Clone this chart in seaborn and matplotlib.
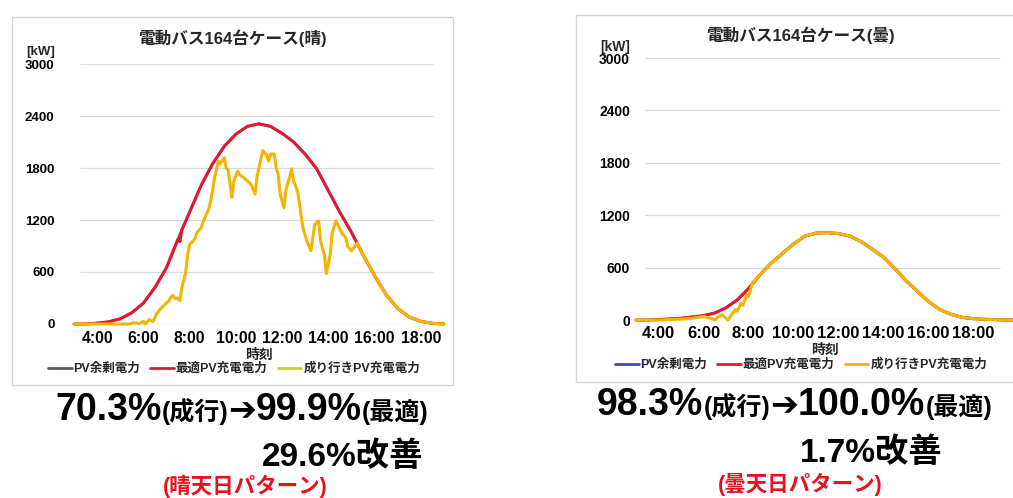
import matplotlib
matplotlib.use("Agg")
import matplotlib.pyplot as plt
import seaborn as sns
from matplotlib.lines import Line2D
from matplotlib.patches import Rectangle
from matplotlib.offsetbox import TextArea, HPacker, AnchoredOffsetbox

sns.set_style("white")
plt.rcParams["font.family"] = ["Liberation Sans", "Noto Sans CJK JP"]

W, H = 1013, 498

# ---------------- 晴天日 (sunny day) ----------------
sunny_time = ["03:00", "03:30", "04:00", "04:30", "05:00", "05:30", "06:00", "06:30",
              "07:00", "07:30", "07:35", "07:40", "08:00", "08:30", "09:00", "09:30",
              "10:00", "10:30", "11:00", "11:30", "12:00", "12:30", "13:00", "13:30",
              "14:00", "14:30", "15:00", "15:30", "16:00", "16:30", "17:00", "17:30",
              "18:00", "18:30", "19:00"]
sunny_surplus = [0, 0, 10, 25, 60, 130, 240, 420, 650, 980, 1040, 1085, 1290, 1600, 1850, 2050,
                 2190, 2280, 2310, 2280, 2200, 2100, 1960, 1790, 1540, 1290, 1060, 800, 560, 340,
                 180, 80, 30, 8, 0]
sunny_optimal = [0, 0, 10, 25, 60, 130, 240, 420, 650, 980, 950, 1085, 1290, 1600, 1850, 2050,
                 2190, 2280, 2310, 2280, 2200, 2100, 1960, 1790, 1540, 1290, 1060, 800, 560, 340,
                 180, 80, 30, 8, 0]

sunny_market_time = ["03:00", "04:00", "05:00", "05:25", "05:35", "05:50", "06:00", "06:05",
                     "06:15", "06:25", "06:35", "06:40", "06:50", "06:58", "07:05", "07:15",
                     "07:25", "07:30", "07:35", "07:40", "07:50", "07:55", "08:00", "08:10",
                     "08:15", "08:20", "08:30", "08:35", "08:40", "08:50", "08:55", "09:00",
                     "09:05", "09:15", "09:20", "09:30", "09:35", "09:40", "09:50", "09:55",
                     "10:05", "10:10", "10:20", "10:30", "10:40", "10:50", "10:55", "11:05",
                     "11:10", "11:20", "11:25", "11:30", "11:40", "11:45", "11:50", "11:55",
                     "12:05", "12:10", "12:20", "12:25", "12:30", "12:40", "12:45", "12:50",
                     "12:55", "13:05", "13:15", "13:20", "13:25", "13:35", "13:40", "13:50",
                     "13:55", "14:05", "14:10", "14:20", "14:30", "14:35", "14:45", "14:50",
                     "15:00", "15:10", "15:15", "15:30", "16:00", "16:30", "17:00", "17:30",
                     "18:00", "18:30", "19:00"]
sunny_market = [0, 0, 0, 0, 15, 5, 30, 0,
                50, 30, 120, 150, 200, 235, 260, 330,
                290, 300, 270, 420, 600, 800, 920, 960,
                1000, 1060, 1110, 1180, 1230, 1330, 1420, 1550,
                1690, 1880, 1850, 1920, 1800, 1780, 1460, 1650,
                1765, 1720, 1690, 1650, 1610, 1500, 1700, 1900,
                2000, 1950, 1880, 1960, 1960, 1800, 1730, 1500,
                1340, 1550, 1700, 1790, 1650, 1535, 1400, 1230,
                1100, 950, 845, 1000, 1150, 1190, 950, 800,
                580, 800, 1050, 1190, 1100, 1050, 1000, 900,
                845, 900, 935, 800, 560, 340, 180, 80,
                30, 8, 0]

# ---------------- 曇天日 (cloudy day) ----------------
cloudy_time = ["03:00", "03:30", "04:00", "04:30", "05:00", "05:30", "06:00", "06:30",
               "07:00", "07:30", "08:00", "08:30", "09:00", "09:30", "10:00", "10:30",
               "11:00", "11:30", "12:00", "12:30", "13:00", "13:30", "14:00", "14:30",
               "15:00", "15:30", "16:00", "16:30", "17:00", "17:30", "18:00", "18:30",
               "19:00", "19:30", "20:00"]
cloudy_optimal = [0, 0, 5, 12, 20, 35, 50, 80, 140, 230, 360, 515, 650, 760, 870, 960,
                  995, 1000, 990, 960, 900, 810, 720, 590, 450, 330, 210, 120, 65, 30, 15, 8,
                  3, 0, 0]
cloudy_surplus = cloudy_optimal  # surplus PV coincides with the optimal charge curve

cloudy_market_time = ["03:00", "04:00", "05:00", "05:30", "06:00", "06:20", "06:30", "06:40",
                      "06:50", "07:00", "07:05", "07:15", "07:25", "07:30", "07:40", "07:45",
                      "07:55", "08:00", "08:10", "08:30", "09:00", "09:30", "10:00", "10:30",
                      "11:00", "11:30", "12:00", "12:30", "13:00", "13:30", "14:00", "14:30",
                      "15:00", "15:30", "16:00", "16:30", "17:00", "17:30", "18:00", "18:30",
                      "19:00", "19:30", "20:00"]
cloudy_market = [0, 0, 10, 20, 40, 20, 0, 40,
                 60, 20, 0, 60, 120, 100, 190, 170,
                 290, 270, 420, 515, 650, 760, 870, 960,
                 995, 1000, 990, 960, 900, 810, 720, 590,
                 450, 330, 210, 120, 65, 30, 15, 8,
                 3, 0, 0]

kw_ticks = [0, 600, 1200, 1800, 2400, 3000]
hour_ticks = [4, 6, 8, 10, 12, 14, 16, 18]
hour_labels = ["4:00", "6:00", "8:00", "10:00", "12:00", "14:00", "16:00", "18:00"]
legend_labels = ["PV余剰電力", "最適PV充電電力", "成り行きPV充電電力"]

RED = "#DE1A32"
AMBER = "#F4B400"


def to_hours(ts):
    return [int(t[:2]) + int(t[3:]) / 60 for t in ts]


def fx(x):
    return x / W


def fy(y):
    return 1 - y / H


fig = plt.figure(figsize=(W / 100, H / 100), dpi=100)
fig.patch.set_facecolor("white")

# panel frames
fig.add_artist(Rectangle((fx(12), fy(385)), fx(453) - fx(12), fy(17) - fy(385),
                         transform=fig.transFigure, fill=False, ec="#d6d6d6", lw=1.0))
fig.add_artist(Rectangle((fx(576), fy(382)), fx(1030) - fx(576), fy(15) - fy(382),
                         transform=fig.transFigure, fill=False, ec="#d6d6d6", lw=1.0))


def draw_panel(ax, title, surplus, optimal, opt_time, market, market_time,
               xlim, grid_span, ytick_size, xtick_size, xpad, ypad, title_xy,
               kw_xy, legend_xy, legend_colors):
    t_opt = to_hours(opt_time)
    t_mkt = to_hours(market_time)
    sns.lineplot(x=t_opt, y=surplus, ax=ax, color=legend_colors[0], linewidth=1.8,
                 estimator=None, sort=False)
    sns.lineplot(x=t_opt, y=optimal, ax=ax, color=RED, linewidth=2.2,
                 estimator=None, sort=False)
    sns.lineplot(x=t_mkt, y=market, ax=ax, color=AMBER, linewidth=2.2,
                 estimator=None, sort=False)
    for ln in ax.lines:
        ln.set_clip_on(False)

    ax.hlines(kw_ticks, grid_span[0], grid_span[1], transform=ax.get_yaxis_transform(),
              colors="#d9d9d9", linewidth=0.9, zorder=0)
    ax.set_xlim(*xlim)
    ax.set_ylim(0, 3000)
    ax.set_yticks(kw_ticks)
    ax.set_yticklabels([str(v) for v in kw_ticks], fontsize=ytick_size, fontweight="bold")
    ax.set_xticks(hour_ticks)
    ax.set_xticklabels(hour_labels, fontsize=xtick_size, fontweight="bold")
    ax.tick_params(axis="x", length=0, pad=xpad, colors="black")
    ax.tick_params(axis="y", length=0, pad=ypad, colors="black")
    for sp in ax.spines.values():
        sp.set_visible(False)
    ax.set_facecolor("none")
    ax.set_xlabel("時刻", fontsize=10, fontweight="bold", labelpad=1.5)
    ax.set_ylabel("")

    fig.text(fx(title_xy[0]), fy(title_xy[1]), title, fontsize=12, fontweight="bold",
             ha="center", va="center", color="#262626")
    fig.text(fx(kw_xy[0]), fy(kw_xy[1]), "[kW]", fontsize=ytick_size, fontweight="bold",
             ha="right", va="center")

    handles = [Line2D([], [], color=c, lw=2.0) for c in legend_colors]
    ax.legend(handles, legend_labels, loc="center", ncol=3, frameon=False,
              bbox_to_anchor=(fx(legend_xy[0]), fy(legend_xy[1])),
              bbox_transform=fig.transFigure, handlelength=1.9, handletextpad=0.15,
              columnspacing=0.8, prop={"size": 9, "weight": "bold"}, labelcolor="#262626")


ax1 = fig.add_axes([fx(74), fy(324), fx(445) - fx(74), fy(64) - fy(324)])
draw_panel(ax1, "電動バス164台ケース(晴)", sunny_surplus, sunny_optimal, sunny_time,
           sunny_market, sunny_market_time, (3.0, 19.05), (0.016, 0.968),
           9.5, 11.3, 5, 14, (232, 38), (55, 52), (234, 369),
           ["#5a5a60", RED, "#C6D225"])

ax2 = fig.add_axes([fx(636), fy(320), fx(1014) - fx(636), fy(58) - fy(320)])
draw_panel(ax2, "電動バス164台ケース(曇)", cloudy_surplus, cloudy_optimal, cloudy_time,
           cloudy_market, cloudy_market_time, (3.0, 19.8), (0.024, 0.963),
           10, 12, 4.3, 4.3, (800, 35), (630, 47), (801, 365),
           ["#3F4BA6", RED, "#F0B01E"])


def text_run(x_px, y_px, pieces, color="black"):
    boxes = []
    for txt, size, fam in pieces:
        props = dict(fontsize=size, color=color, fontweight="bold")
        if fam is not None:
            props["family"] = fam
            props["fontweight"] = "normal"
        boxes.append(TextArea(txt, textprops=props))
    pack = HPacker(children=boxes, align="baseline", pad=0, sep=0)
    box = AnchoredOffsetbox(loc="center left", child=pack, pad=0, borderpad=0,
                            frameon=False, bbox_to_anchor=(fx(x_px), fy(y_px)),
                            bbox_transform=fig.transFigure)
    fig.add_artist(box)


BIG, SMALL = 27, 18
text_run(55, 410, [("70.3%", BIG, None), ("(成行)", SMALL, None), ("➔", 24, ["DejaVu Sans"]),
                   ("99.9%", BIG, None), ("(最適)", SMALL, None)])
text_run(597, 405, [("98.3%", BIG, None), ("(成行)", SMALL, None), ("➔", 24, ["DejaVu Sans"]),
                    ("100.0%", BIG, None), ("(最適)", SMALL, None)])
text_run(262, 457, [("29.6%改善", 24, None)])
text_run(800, 453, [("1.7%改善", 24, None)])

fig.text(fx(245), fy(486), "(晴天日パターン)", fontsize=15.5, fontweight="bold",
         color="#E8101E", ha="center", va="center")
fig.text(fx(800), fy(484), "(曇天日パターン)", fontsize=15.5, fontweight="bold",
         color="#E8101E", ha="center", va="center")

fig.savefig("out.png", dpi=100, facecolor="white")
